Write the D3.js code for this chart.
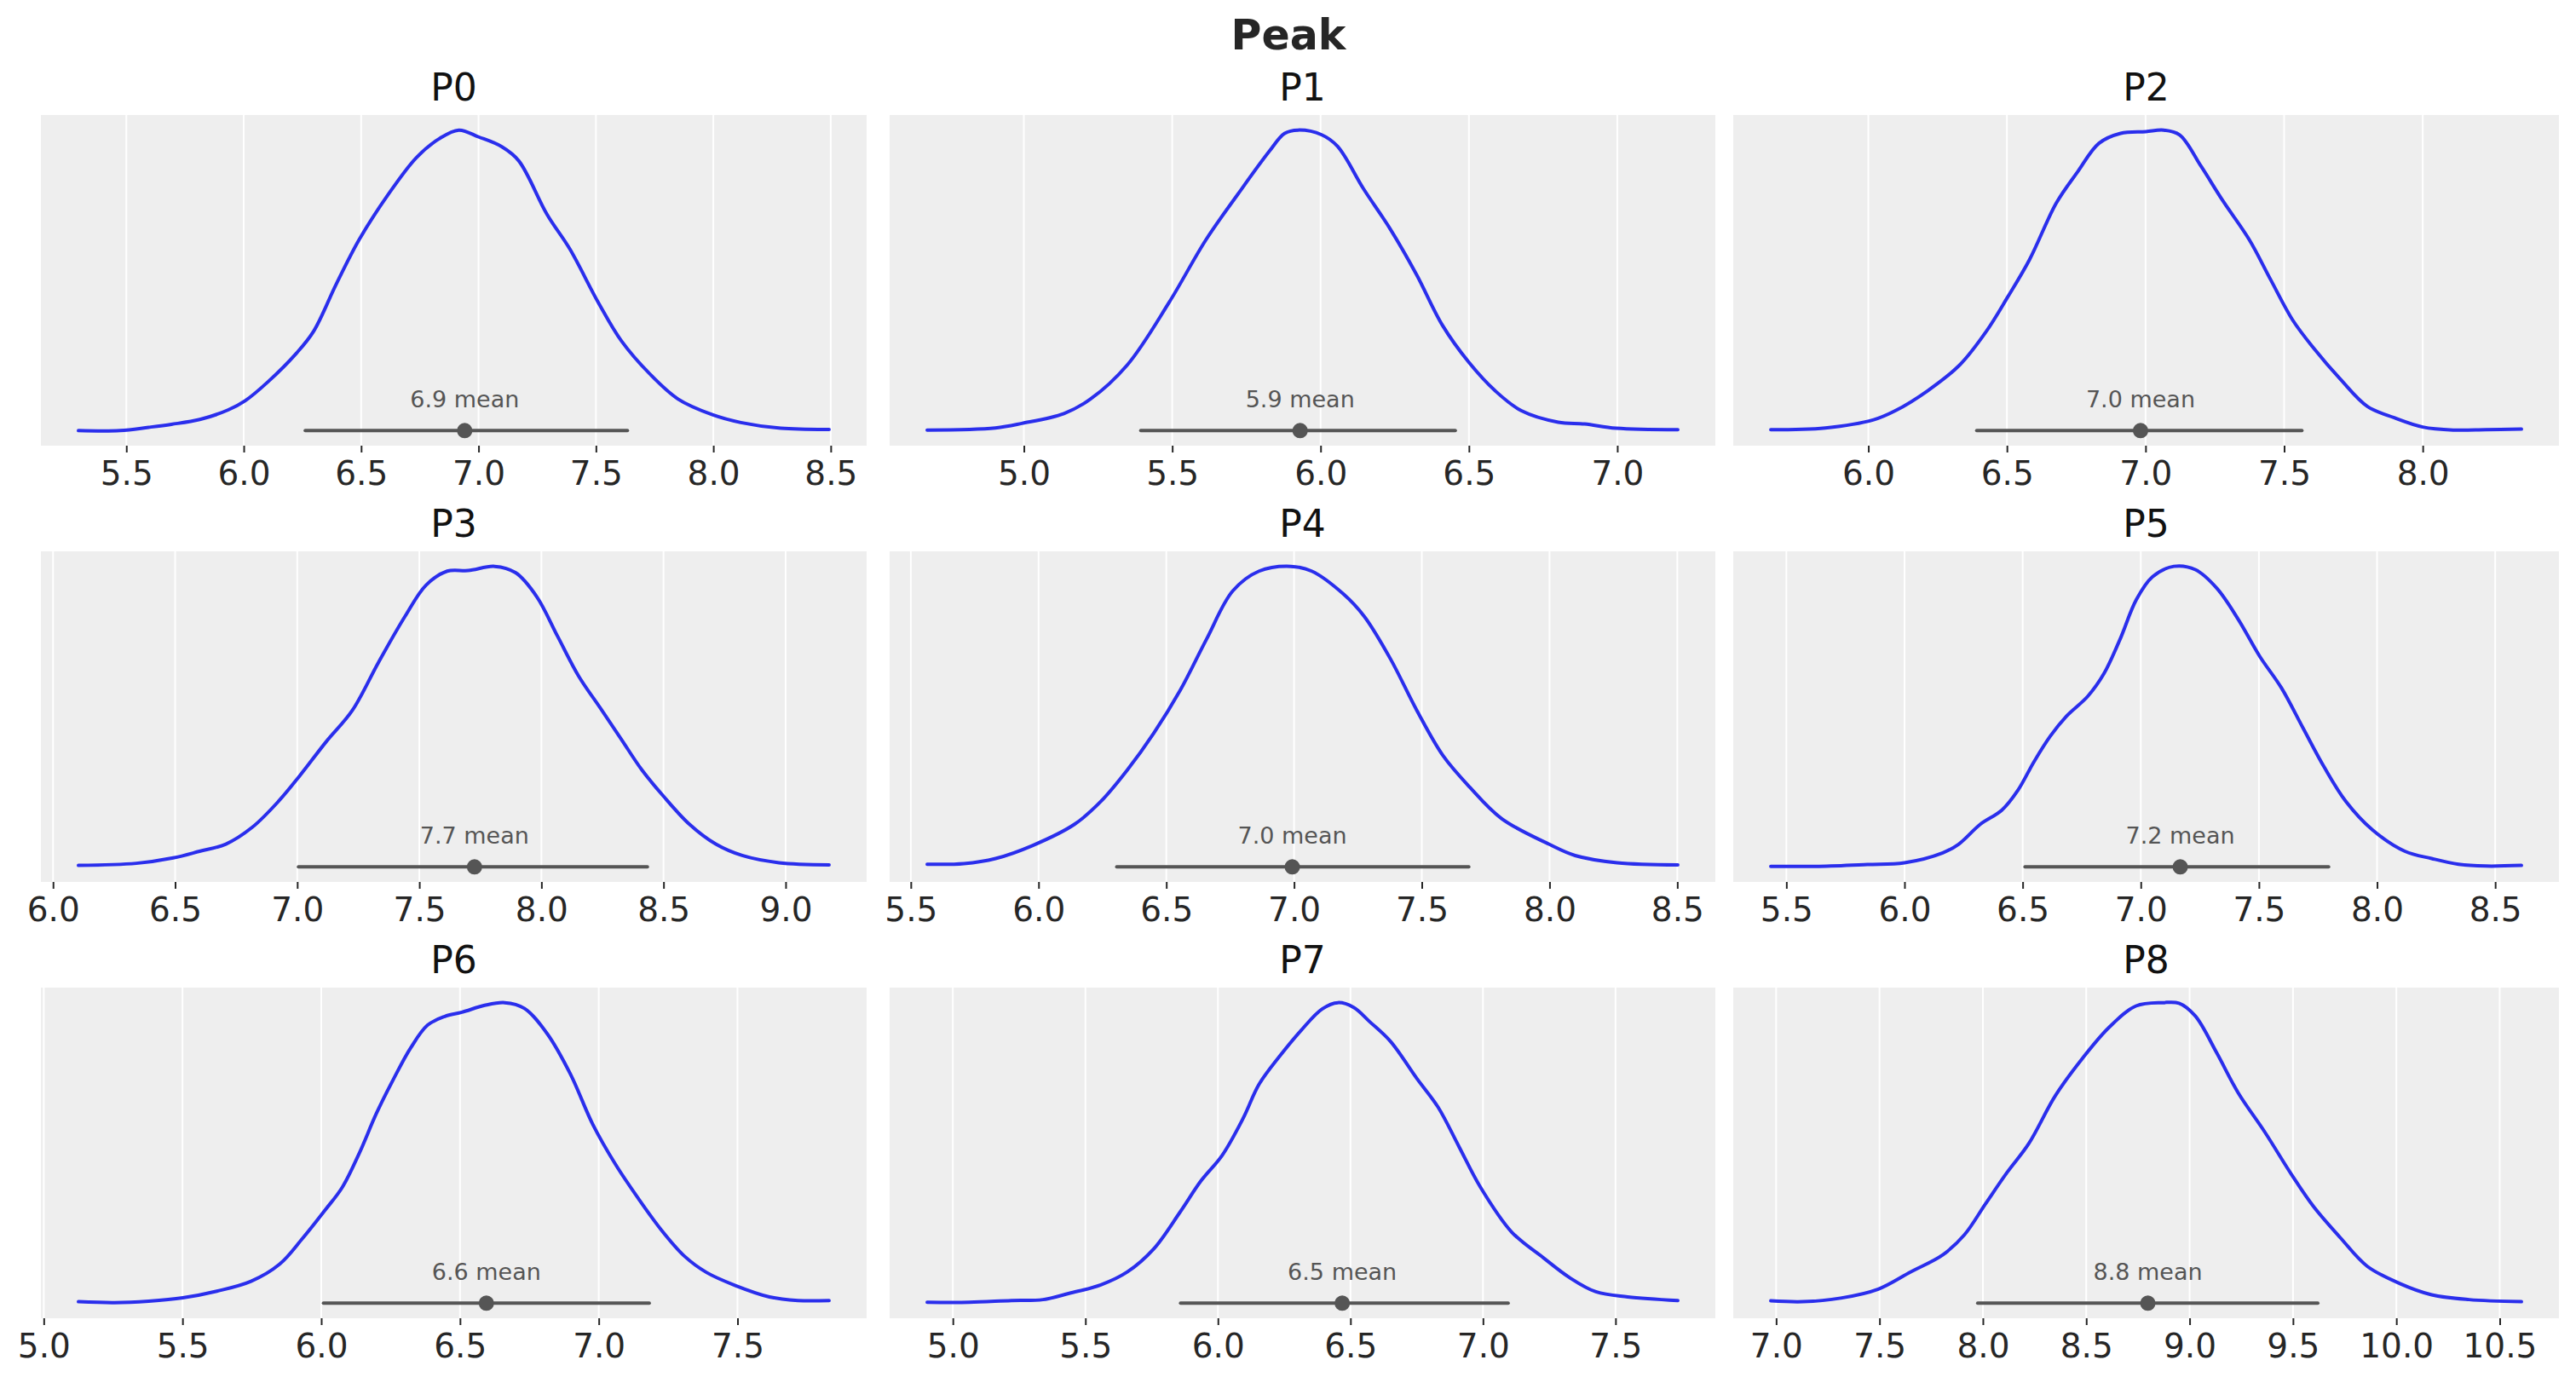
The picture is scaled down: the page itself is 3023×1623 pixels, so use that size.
<!DOCTYPE html>
<html>
<head>
<meta charset="utf-8">
<script src="https://cdn.jsdelivr.net/npm/d3@7"></script>
<style>
  body { margin: 0; background: #fff; }
  text { font-family: "DejaVu Sans", sans-serif; }
</style>
</head>
<body>
<svg width="3023" height="1623"></svg>
<script>
const panels = ["P0", "P1", "P2", "P3", "P4", "P5", "P6", "P7", "P8"];

// density curves (x value, relative density)
const p0x = [5.296, 5.473, 5.595, 5.692, 5.813, 5.934, 6.007, 6.104, 6.225, 6.298, 6.395, 6.492, 6.613, 6.735, 6.832, 6.916, 7.001, 7.098, 7.171, 7.292, 7.389, 7.511, 7.608, 7.729, 7.850, 7.996, 8.117, 8.287, 8.493];
const p0y = [0.0, 0.0, 0.011, 0.021, 0.037, 0.069, 0.100, 0.163, 0.258, 0.331, 0.489, 0.636, 0.783, 0.908, 0.971, 1.0, 0.977, 0.945, 0.898, 0.719, 0.604, 0.425, 0.299, 0.189, 0.105, 0.053, 0.027, 0.008, 0.004];

const p1x = [4.674, 4.904, 4.993, 5.135, 5.223, 5.348, 5.489, 5.613, 5.720, 5.826, 5.879, 5.924, 6.004, 6.057, 6.145, 6.234, 6.323, 6.411, 6.500, 6.589, 6.677, 6.801, 6.890, 6.996, 7.204];
const p1y = [0.002, 0.009, 0.024, 0.057, 0.104, 0.218, 0.426, 0.634, 0.785, 0.928, 0.989, 1.0, 0.984, 0.946, 0.804, 0.672, 0.520, 0.350, 0.227, 0.132, 0.066, 0.028, 0.022, 0.008, 0.003];

const p2x = [5.648, 5.845, 6.019, 6.097, 6.213, 6.329, 6.426, 6.503, 6.581, 6.678, 6.755, 6.832, 6.910, 7.001, 7.065, 7.123, 7.200, 7.278, 7.375, 7.452, 7.530, 7.607, 7.704, 7.801, 7.897, 8.000, 8.110, 8.227, 8.356];
const p2y = [0.003, 0.009, 0.036, 0.066, 0.132, 0.218, 0.331, 0.445, 0.568, 0.757, 0.861, 0.956, 0.989, 0.995, 1.0, 0.984, 0.880, 0.766, 0.634, 0.501, 0.369, 0.274, 0.170, 0.080, 0.043, 0.012, 0.002, 0.003, 0.005];

const p3x = [6.104, 6.341, 6.492, 6.600, 6.708, 6.816, 6.923, 7.010, 7.118, 7.225, 7.333, 7.441, 7.527, 7.614, 7.700, 7.808, 7.894, 7.981, 8.067, 8.153, 8.240, 8.326, 8.412, 8.498, 8.606, 8.714, 8.822, 8.973, 9.178];
const p3y = [0.005, 0.012, 0.030, 0.052, 0.076, 0.132, 0.218, 0.303, 0.416, 0.520, 0.681, 0.833, 0.937, 0.984, 0.986, 1.0, 0.979, 0.899, 0.766, 0.634, 0.530, 0.426, 0.322, 0.237, 0.142, 0.076, 0.038, 0.014, 0.007];

const p4x = [5.564, 5.708, 5.832, 5.976, 6.141, 6.244, 6.347, 6.451, 6.554, 6.657, 6.760, 6.863, 6.987, 7.069, 7.193, 7.275, 7.378, 7.481, 7.584, 7.688, 7.812, 7.997, 8.100, 8.265, 8.502];
const p4y = [0.009, 0.011, 0.028, 0.071, 0.142, 0.218, 0.322, 0.445, 0.587, 0.757, 0.918, 0.984, 1.0, 0.984, 0.908, 0.833, 0.691, 0.520, 0.369, 0.265, 0.161, 0.076, 0.038, 0.014, 0.007];

const p5x = [5.434, 5.639, 5.843, 6.000, 6.162, 6.230, 6.321, 6.412, 6.480, 6.548, 6.617, 6.685, 6.776, 6.844, 6.912, 6.981, 7.049, 7.140, 7.231, 7.322, 7.413, 7.504, 7.595, 7.686, 7.777, 7.868, 7.981, 8.118, 8.231, 8.345, 8.459, 8.611];
const p5y = [0.002, 0.002, 0.008, 0.014, 0.047, 0.076, 0.142, 0.189, 0.255, 0.350, 0.435, 0.501, 0.568, 0.643, 0.757, 0.889, 0.965, 1.0, 0.989, 0.927, 0.823, 0.700, 0.596, 0.463, 0.331, 0.218, 0.123, 0.052, 0.028, 0.009, 0.003, 0.005];

const p6x = [5.125, 5.255, 5.378, 5.501, 5.624, 5.747, 5.850, 5.932, 6.014, 6.076, 6.137, 6.199, 6.260, 6.322, 6.383, 6.445, 6.507, 6.589, 6.661, 6.732, 6.814, 6.897, 6.979, 7.061, 7.143, 7.225, 7.307, 7.389, 7.492, 7.615, 7.718, 7.830];
const p6y = [0.005, 0.002, 0.007, 0.018, 0.040, 0.073, 0.130, 0.215, 0.310, 0.386, 0.499, 0.632, 0.745, 0.849, 0.925, 0.954, 0.968, 0.991, 1.0, 0.981, 0.897, 0.764, 0.594, 0.461, 0.348, 0.244, 0.158, 0.102, 0.059, 0.021, 0.009, 0.009];

const p7x = [4.903, 5.062, 5.221, 5.340, 5.439, 5.558, 5.658, 5.757, 5.857, 5.936, 6.016, 6.095, 6.155, 6.234, 6.314, 6.393, 6.453, 6.512, 6.572, 6.651, 6.751, 6.830, 6.910, 6.989, 7.108, 7.228, 7.327, 7.426, 7.546, 7.735];
const p7y = [0.003, 0.003, 0.009, 0.012, 0.033, 0.061, 0.104, 0.180, 0.303, 0.407, 0.492, 0.615, 0.728, 0.823, 0.908, 0.979, 1.0, 0.984, 0.937, 0.871, 0.747, 0.653, 0.520, 0.388, 0.237, 0.151, 0.085, 0.038, 0.021, 0.009];

const p8x = [6.974, 7.130, 7.312, 7.494, 7.650, 7.806, 7.910, 8.013, 8.117, 8.221, 8.351, 8.481, 8.611, 8.741, 8.871, 8.949, 9.027, 9.131, 9.235, 9.365, 9.495, 9.599, 9.729, 9.859, 10.015, 10.171, 10.352, 10.605];
const p8y = [0.008, 0.005, 0.017, 0.047, 0.104, 0.161, 0.227, 0.331, 0.435, 0.530, 0.691, 0.814, 0.918, 0.989, 1.0, 0.998, 0.956, 0.833, 0.700, 0.568, 0.426, 0.322, 0.218, 0.123, 0.066, 0.028, 0.012, 0.005];

const means   = [6.941, 5.931, 6.982, 7.726, 6.993, 7.167, 6.595, 6.469, 8.798];
const hdiLow  = [6.262, 5.394, 6.391, 7.005, 6.306, 6.510, 6.008, 5.859, 7.975];
const hdiHigh = [7.634, 6.454, 7.564, 8.434, 7.684, 7.795, 7.182, 7.095, 9.620];

const ticks = [
  [5.5, 6.0, 6.5, 7.0, 7.5, 8.0, 8.5],
  [5.0, 5.5, 6.0, 6.5, 7.0],
  [6.0, 6.5, 7.0, 7.5, 8.0],
  [6.0, 6.5, 7.0, 7.5, 8.0, 8.5, 9.0],
  [5.5, 6.0, 6.5, 7.0, 7.5, 8.0, 8.5],
  [5.5, 6.0, 6.5, 7.0, 7.5, 8.0, 8.5],
  [5.0, 5.5, 6.0, 6.5, 7.0, 7.5],
  [5.0, 5.5, 6.0, 6.5, 7.0, 7.5],
  [7.0, 7.5, 8.0, 8.5, 9.0, 9.5, 10.0, 10.5]
];

const curvesX = [p0x, p1x, p2x, p3x, p4x, p5x, p6x, p7x, p8x];
const curvesY = [p0y, p1y, p2y, p3y, p4y, p5y, p6y, p7y, p8y];

const svg = d3.select("svg");
const colX = [48, 1044, 2034], rowY = [135, 647, 1159];
const pw = 969, ph = 388;
const fmt = d3.format(".1f");

svg.append("text")
  .attr("x", 1512).attr("y", 58)
  .attr("text-anchor", "middle")
  .attr("font-size", 49).attr("font-weight", "bold")
  .attr("fill", "#262626")
  .text("Peak");

panels.forEach(function(name, i) {
  const xs = curvesX[i], ys = curvesY[i];
  const lo = d3.min(xs), hi = d3.max(xs), pad = (hi - lo) * 0.05;
  const x = d3.scaleLinear().domain([lo - pad, hi + pad]).range([0, pw]);
  const y = d3.scaleLinear().domain([-0.05, 1.05]).range([ph, 0]);

  const g = svg.append("g")
    .attr("transform", `translate(${colX[i % 3]},${rowY[Math.floor(i / 3)]})`);

  g.append("rect").attr("width", pw).attr("height", ph).attr("fill", "#eeeeee");

  // vertical grid
  g.selectAll(".grid").data(ticks[i]).enter().append("line")
    .attr("x1", d => x(d)).attr("x2", d => x(d))
    .attr("y1", 0).attr("y2", ph)
    .attr("stroke", "#fff").attr("stroke-width", 2);

  const axis = d3.axisBottom(x).tickValues(ticks[i]).tickFormat(fmt).tickSize(8).tickPadding(10);
  const ax = g.append("g").attr("transform", `translate(0,${ph})`).call(axis);
  ax.select(".domain").remove();
  ax.selectAll("line").attr("stroke", "#262626").attr("stroke-width", 2);
  ax.selectAll("text").attr("font-size", 39).attr("fill", "#262626")
    .attr("font-family", "DejaVu Sans");

  const line = d3.line()
    .x(d => x(d[0])).y(d => y(d[1]))
    .curve(d3.curveCatmullRom.alpha(0.5));

  g.append("path")
    .datum(d3.zip(xs, ys))
    .attr("d", line)
    .attr("fill", "none")
    .attr("stroke", "#2a2eec")
    .attr("stroke-width", 4)
    .attr("stroke-linecap", "round");

  // credible interval and mean
  g.append("line")
    .attr("x1", x(hdiLow[i])).attr("x2", x(hdiHigh[i]))
    .attr("y1", y(0)).attr("y2", y(0))
    .attr("stroke", "#555").attr("stroke-width", 4).attr("stroke-linecap", "round");

  g.append("circle")
    .attr("cx", x(means[i])).attr("cy", y(0)).attr("r", 9)
    .attr("fill", "#555");

  g.append("text")
    .attr("x", x(means[i])).attr("y", y(0) - 27)
    .attr("text-anchor", "middle")
    .attr("font-size", 27).attr("fill", "#555")
    .text(fmt(means[i]) + " mean");

  g.append("text")
    .attr("x", pw / 2).attr("y", -17)
    .attr("text-anchor", "middle")
    .attr("font-size", 44).attr("fill", "#111")
    .text(name);
});
</script>
</body>
</html>
